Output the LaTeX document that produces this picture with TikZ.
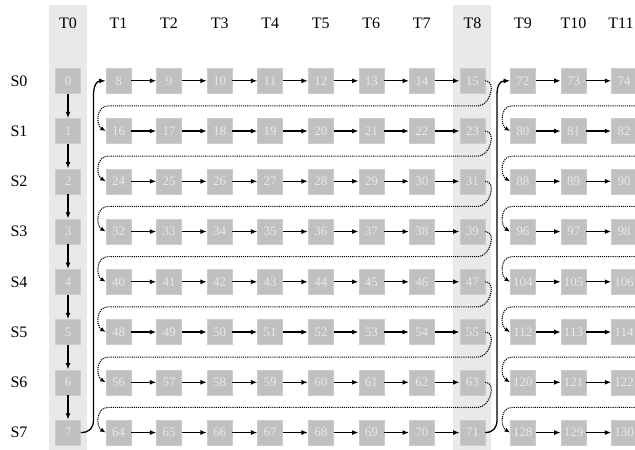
\documentclass[tikz,border=0pt]{standalone}
\usepackage{fontspec}
\setmainfont{Liberation Serif}
\usetikzlibrary{arrows.meta,calc}
\definecolor{boxgray}{HTML}{C0C0C0}
\definecolor{boxline}{HTML}{CCCCCC}
\definecolor{boxtext}{HTML}{E8E8E8}
\definecolor{bandgray}{HTML}{E9E9E9}
\begin{document}
\begin{tikzpicture}[x=1pt,y=-1pt,
  cell/.style={fill=boxgray, draw=boxline, line width=0.6pt, text=boxtext, minimum size=25pt, inner sep=0pt, font=\fontsize{13}{13}\selectfont},
  hdr/.style={font=\fontsize{16}{16}\selectfont, inner sep=1pt},
  flow/.style={line width=1.3pt, -{Latex[length=6.5pt,width=5pt]}},
  jump/.style={line width=1.1pt, densely dotted, -{Latex[length=5.5pt,width=4.5pt]}},
  band/.style={fill=bandgray, draw=none}]
\useasboundingbox (0,0) rectangle (635,450);
\clip (0,0) rectangle (635,450);
% highlighted columns
\fill[band] (49,5) rectangle (87,450);
\fill[band] (453.4,5) rectangle (491.4,450);
% headers
\foreach \i in {0,...,10} {
  \pgfmathsetmacro\cx{68+50.55*\i}
  \node[hdr] (T\i) at (\cx,23) {T\i};
}
\node[hdr] (T11) at (621,23) {T11};
\foreach \j in {0,...,7} {
  \pgfmathsetmacro\cy{80.8+50.25*\j}
  \node[hdr] (S\j) at (19,\cy) {S\j};
}
% cells
\foreach \i in {0,...,11} {
  \foreach \j in {0,...,7} {
    \pgfmathsetmacro\cx{68+50.55*\i}
    \pgfmathsetmacro\cy{80.8+50.25*\j}
    \pgfmathtruncatemacro\n{\i==0 ? \j : (\i<9 ? 8+8*\j+\i-1 : 72+8*\j+\i-9)}
    \node[cell] (b-\i-\j) at (\cx,\cy) {\n};
  }
}
% horizontal arrows
\foreach \j in {0,...,7} {
  \foreach \i in {1,...,7,9,10} {
    \pgfmathtruncatemacro\k{\i+1}
    \draw[flow] (b-\i-\j) -- (b-\k-\j);
  }
}
% vertical arrows in T0
\foreach \j in {0,...,6} {
  \pgfmathtruncatemacro\k{\j+1}
  \draw[flow] (b-0-\j) -- (b-0-\k);
}
% dotted row wraps
\foreach \j in {0,...,6} {
  \pgfmathtruncatemacro\k{\j+1}
  \pgfmathsetmacro\my{80.8+50.25*\j+25.1}
  \coordinate (dr-\j) at (478,\my);
  \coordinate (dl-\j) at (108,\my);
  \draw[jump] (b-8-\j.east) .. controls +(12,0) and +(12,0) .. (dr-\j) -- (dl-\j)
     .. controls +(-12,0) and +(-10,-6) .. (b-1-\k.west);
  \coordinate (er-\j) at (642,\my);
  \coordinate (el-\j) at (512,\my);
  \draw[jump] (b-11-\j.east) .. controls +(12,0) and +(12,0) .. (er-\j) -- (el-\j)
     .. controls +(-12,0) and +(-10,-6) .. (b-9-\k.west);
}
% jumps from bottom of T0 / T8 to top of next block
\coordinate (ja) at (93.5,420);
\coordinate (jb) at (93.5,95);
\draw[flow] (b-0-7.east) .. controls (89.5,432.5) and (93.5,428) .. (ja) -- (jb)
   .. controls (93.5,85) and (97,81) .. (b-1-0.west);
\coordinate (ka) at (497,420);
\coordinate (kb) at (497,95);
\draw[flow] (b-8-7.east) .. controls (493,432.5) and (497,428) .. (ka) -- (kb)
   .. controls (497,85) and (500,81) .. (b-9-0.west);
\end{tikzpicture}
\end{document}
